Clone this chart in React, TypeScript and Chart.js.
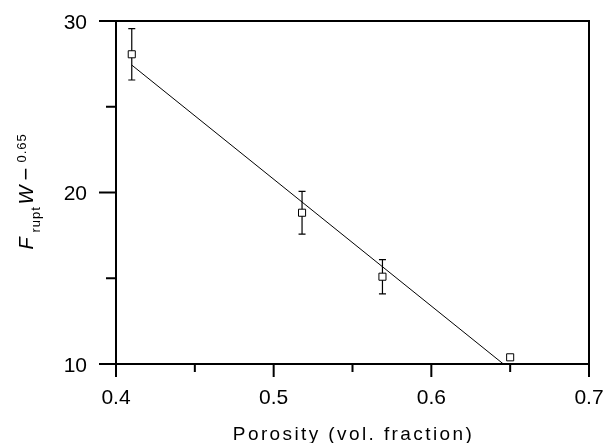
import { useEffect, useRef } from "react";
import { Chart, registerables } from "chart.js";

Chart.register(...registerables);

// ---- data ----
const porosity = [0.41, 0.518, 0.569, 0.65];
const normForce = [28.06, 18.82, 15.09, 10.39];
const errorHalf = [1.5, 1.25, 1.0, 0];
const fitX = [0.41, 0.6457];
const fitY = [27.43, 10.0];
const xMajor = [0.4, 0.5, 0.6, 0.7];
const xMinor = [0.45, 0.55, 0.65];
const yMajor = [10, 20, 30];
const yMinor = [15, 25];
const xTickLabels = ["0.4", "0.5", "0.6", "0.7"];
const yTickLabels = ["10", "20", "30"];
const xTitle = "Porosity (vol. fraction)";
const yTitleMain1 = "F";
const yTitleSub = "rupt";
const yTitleMain2 = "W";
const yTitleMinus = "\u2212";
const yTitleSup = "0.65";

const FONT = "'Liberation Sans', Arial, Helvetica, sans-serif";

const framePlugin = {
  id: "frameTicks",
  beforeDatasetsDraw(chart: any) {
    const ctx = chart.ctx as CanvasRenderingContext2D;
    const xs = chart.scales.x;
    const ys = chart.scales.y;
    // error bars
    ctx.save();
    ctx.strokeStyle = "#000";
    ctx.lineWidth = 1.2;
    porosity.forEach((p, i) => {
      const e = errorHalf[i];
      if (!e) return;
      const px = xs.getPixelForValue(p);
      const top = ys.getPixelForValue(normForce[i] + e);
      const bot = ys.getPixelForValue(normForce[i] - e);
      ctx.beginPath();
      ctx.moveTo(px, top);
      ctx.lineTo(px, bot);
      ctx.moveTo(px - 3.5, top);
      ctx.lineTo(px + 3.5, top);
      ctx.moveTo(px - 3.5, bot);
      ctx.lineTo(px + 3.5, bot);
      ctx.stroke();
    });
    ctx.restore();
  },
  afterDraw(chart: any) {
    const ctx = chart.ctx as CanvasRenderingContext2D;
    const { left, right, top, bottom } = chart.chartArea;
    const xs = chart.scales.x;
    const ys = chart.scales.y;
    ctx.save();
    ctx.strokeStyle = "#000";
    ctx.lineWidth = 2;
    ctx.strokeRect(left, top, right - left, bottom - top);
    ctx.beginPath();
    xMajor.forEach((v) => {
      const px = xs.getPixelForValue(v);
      ctx.moveTo(px, bottom);
      ctx.lineTo(px, bottom + 13);
    });
    xMinor.forEach((v) => {
      const px = xs.getPixelForValue(v);
      ctx.moveTo(px, bottom);
      ctx.lineTo(px, bottom + 8);
    });
    yMajor.forEach((v) => {
      const py = ys.getPixelForValue(v);
      ctx.moveTo(left, py);
      ctx.lineTo(left - 17, py);
    });
    yMinor.forEach((v) => {
      const py = ys.getPixelForValue(v);
      ctx.moveTo(left, py);
      ctx.lineTo(left - 10, py);
    });
    ctx.stroke();

    ctx.fillStyle = "#000";
    // tick labels
    ctx.font = `21px ${FONT}`;
    ctx.letterSpacing = "0px";
    ctx.textBaseline = "alphabetic";
    ctx.textAlign = "center";
    xMajor.forEach((v, i) => {
      ctx.fillText(xTickLabels[i], xs.getPixelForValue(v), bottom + 40);
    });
    ctx.textAlign = "right";
    yMajor.forEach((v, i) => {
      ctx.fillText(yTickLabels[i], left - 29, ys.getPixelForValue(v) + 7.5);
    });

    // x title
    ctx.font = `19px ${FONT}`;
    ctx.letterSpacing = "2.4px";
    ctx.textAlign = "center";
    ctx.fillText(xTitle, (left + right) / 2 + 1, 440);

    // y title (rotated, rich text)
    const cy = (top + bottom) / 2;
    ctx.translate(33, cy + 57);
    ctx.rotate(-Math.PI / 2);
    ctx.textAlign = "left";
    const part = (t: string, font: string, at: number, dy: number, ls: string) => {
      ctx.font = font;
      ctx.letterSpacing = ls;
      ctx.fillText(t, at, dy);
    };
    part(yTitleMain1, `italic 20px ${FONT}`, 0, 0, "0px");
    part(yTitleSub, `13px ${FONT}`, 17, 7, "1px");
    part(yTitleMain2, `italic 20px ${FONT}`, 45, 0, "0px");
    part(yTitleMinus, `22px ${FONT}`, 69, 0, "0px");
    part(yTitleSup, `13px ${FONT}`, 87, -7, "1px");
    ctx.restore();
  },
};

export default function App() {
  const ref = useRef<HTMLCanvasElement>(null);
  useEffect(() => {
    if (!ref.current) return;
    const chart = new Chart(ref.current, {
      type: "scatter",
      data: {
        datasets: [
          {
            label: "measured",
            data: porosity.map((p, i) => ({ x: p, y: normForce[i] })),
            pointStyle: "rect",
            pointRadius: 5,
            pointBackgroundColor: "#fff",
            pointBorderColor: "#000",
            pointBorderWidth: 1,
            showLine: false,
            order: 0,
          },
          {
            label: "fit",
            data: fitX.map((x, i) => ({ x, y: fitY[i] })),
            showLine: true,
            borderColor: "#000",
            borderWidth: 1,
            pointRadius: 0,
            fill: false,
            order: 1,
          },
        ],
      },
      options: {
        animation: false,
        responsive: true,
        maintainAspectRatio: false,
        layout: { padding: { left: 116, right: 16, top: 21, bottom: 79 } },
        plugins: {
          legend: { display: false },
          tooltip: { enabled: false },
          title: { display: false },
        },
        scales: {
          x: { type: "linear", min: 0.4, max: 0.7, display: false },
          y: { type: "linear", min: 10, max: 30, display: false },
        },
      },
      plugins: [framePlugin],
    });
    return () => chart.destroy();
  }, []);
  return (
    <div style={{ position: "fixed", left: 0, top: 0, width: 605, height: 443, background: "#fff" }}>
      <canvas ref={ref} />
    </div>
  );
}
